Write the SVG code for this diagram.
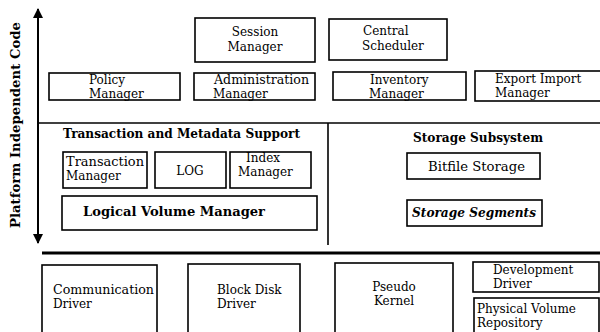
<svg xmlns="http://www.w3.org/2000/svg" width="600" height="332" viewBox="0 0 600 332">
<defs>
<style>
.box{fill:#fff;stroke:#000;stroke-width:1.6}
.t{font-family:"DejaVu Serif","Liberation Serif",serif;font-size:12px;fill:#000}
.b{font-weight:bold}
.c{text-anchor:middle}
.ln{stroke:#000;fill:none}
</style>
<marker id="ah" viewBox="0 0 10 10" refX="9" refY="5" markerWidth="5" markerHeight="7" markerUnits="strokeWidth" orient="auto-start-reverse">
<path d="M0,0 L10,5 L0,10 z" fill="#000"/>
</marker>
</defs>
<rect width="600" height="332" fill="#fff"/>
<g font-family="DejaVu Serif, Liberation Serif, serif">
<g id="connectors">
<line class="ln" x1="38" y1="243" x2="38" y2="9" stroke-width="2" marker-start="url(#ah)" marker-end="url(#ah)"/>
<line class="ln" x1="38" y1="123" x2="600" y2="123" stroke-width="1.6"/>
<line class="ln" x1="328" y1="123" x2="328" y2="245" stroke-width="1.6"/>
<line class="ln" x1="42" y1="253" x2="600" y2="253" stroke-width="3"/>
</g>

<g id="axis-label">
<text class="t b c" transform="translate(20,125) rotate(-90)" font-size="14" textLength="206" lengthAdjust="spacingAndGlyphs">Platform Independent Code</text>
</g>

<g id="session-manager">
<rect class="box" x="195" y="18" width="120" height="44"/>
<text class="t c" x="255" y="36" font-size="13">Session</text>
<text class="t c" x="255" y="51" font-size="13">Manager</text>
</g>
<g id="central-scheduler">
<rect class="box" x="329" y="19" width="118" height="41"/>
<text class="t" x="363" y="35" font-size="13">Central</text>
<text class="t" x="362" y="50" font-size="13">Scheduler</text>
</g>
<g id="policy-manager">
<rect class="box" x="49" y="73" width="131" height="27"/>
<text class="t" x="89" y="84">Policy</text>
<text class="t" x="89" y="98">Manager</text>
</g>
<g id="administration-manager">
<rect class="box" x="194" y="73" width="121" height="27"/>
<text class="t" x="214" y="84" textLength="95" lengthAdjust="spacingAndGlyphs">Administration</text>
<text class="t" x="213" y="98">Manager</text>
</g>
<g id="inventory-manager">
<rect class="box" x="333" y="72" width="133" height="28"/>
<text class="t" x="370" y="84">Inventory</text>
<text class="t" x="369" y="98">Manager</text>
</g>
<g id="export-import-manager">
<rect class="box" x="475" y="71" width="130" height="30"/>
<text class="t" x="495" y="83">Export Import</text>
<text class="t" x="495" y="97">Manager</text>
</g>

<g id="transaction-metadata-support">
<text class="t b" x="63" y="138" font-size="13" textLength="237" lengthAdjust="spacingAndGlyphs">Transaction and Metadata Support</text>
</g>
<g id="transaction-manager">
<rect class="box" x="63" y="152" width="84" height="36"/>
<text class="t" x="66" y="166" textLength="78" lengthAdjust="spacingAndGlyphs">Transaction</text>
<text class="t" x="66" y="180">Manager</text>
</g>
<g id="log">
<rect class="box" x="155" y="152" width="71" height="36"/>
<text class="t c" x="190" y="175" font-size="13">LOG</text>
</g>
<g id="index-manager">
<rect class="box" x="230" y="152" width="81" height="36"/>
<text class="t" x="246" y="162">Index</text>
<text class="t" x="238" y="176">Manager</text>
</g>
<g id="logical-volume-manager">
<rect class="box" x="62" y="196" width="255" height="34"/>
<text class="t b" x="83" y="216" font-size="12" textLength="182" lengthAdjust="spacingAndGlyphs">Logical Volume Manager</text>
</g>

<g id="storage-subsystem">
<text class="t b" x="413" y="142" font-size="13" textLength="130" lengthAdjust="spacingAndGlyphs">Storage Subsystem</text>
</g>
<g id="bitfile-storage">
<rect class="box" x="407" y="153" width="133" height="26"/>
<text class="t" x="428" y="171" font-size="12.5" textLength="97" lengthAdjust="spacingAndGlyphs">Bitfile Storage</text>
</g>
<g id="storage-segments">
<rect class="box" x="407" y="200" width="135" height="26"/>
<text class="t b" x="412" y="217" font-style="italic" font-size="12" textLength="124" lengthAdjust="spacingAndGlyphs">Storage Segments</text>
</g>

<g id="communication-driver">
<rect class="box" x="42" y="265" width="115" height="75"/>
<text class="t" x="53" y="294" textLength="101" lengthAdjust="spacingAndGlyphs">Communication</text>
<text class="t" x="53" y="308">Driver</text>
</g>
<g id="block-disk-driver">
<rect class="box" x="188" y="264" width="112" height="76"/>
<text class="t" x="217" y="294">Block Disk</text>
<text class="t" x="217" y="308">Driver</text>
</g>
<g id="pseudo-kernel">
<rect class="box" x="335" y="263" width="118" height="77"/>
<text class="t c" x="394" y="291">Pseudo</text>
<text class="t c" x="394" y="305">Kernel</text>
</g>
<g id="development-driver">
<rect class="box" x="473" y="262" width="126" height="30"/>
<text class="t" x="493" y="274">Development</text>
<text class="t" x="493" y="288">Driver</text>
</g>
<g id="physical-volume-repository">
<rect class="box" x="474" y="298" width="125" height="40"/>
<text class="t" x="477" y="313">Physical Volume</text>
<text class="t" x="477" y="327">Repository</text>
</g>
</g>
</svg>
